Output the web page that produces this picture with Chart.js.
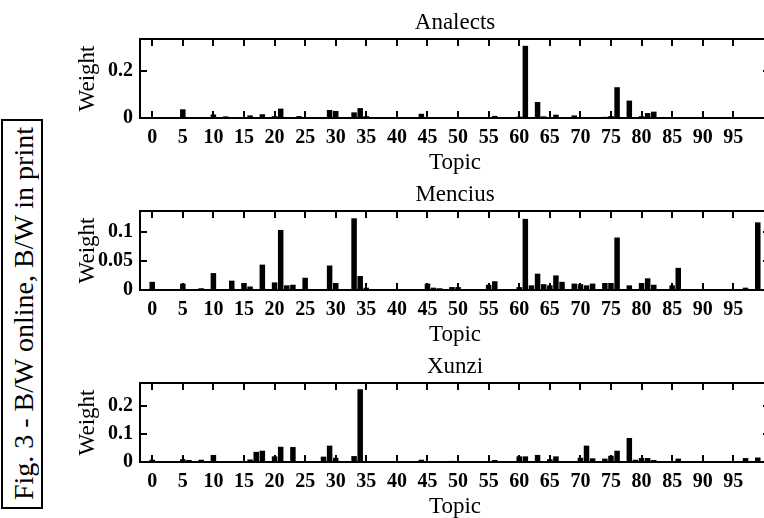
<!DOCTYPE html>
<html>
<head>
<meta charset="utf-8">
<script src="https://cdn.jsdelivr.net/npm/chart.js@4.4.1/dist/chart.umd.min.js"></script>
<style>
  html, body { margin: 0; padding: 0; background: #fff; width: 764px; height: 518px; overflow: hidden; position: relative; }
  canvas.panel { position: absolute; left: 0; }
  #fig {
    position: absolute; left: 1px; top: 119px; width: 38px; height: 386px;
    border: 2px solid #000; display: flex; align-items: center; justify-content: center;
  }
  #fig span {
    writing-mode: vertical-rl; transform: rotate(180deg);
    font-family: 'Liberation Serif', serif; font-size: 28px; color: #000; white-space: nowrap;
    padding-right: 3px;
  }
</style>
</head>
<body>
<div id="fig"><span>Fig. 3 - B/W online, B/W in print</span></div>
<canvas class="panel" id="c0" width="780" height="180" style="top:0px"></canvas>
<canvas class="panel" id="c1" width="780" height="180" style="top:172px"></canvas>
<canvas class="panel" id="c2" width="780" height="180" style="top:344px"></canvas>
<script>
// topic weights, index = topic number 0..99
const analects = [
  0.004, 0, 0, 0, 0, 0.037, 0, 0, 0, 0,
  0.015, 0.003, 0.007, 0, 0, 0, 0.011, 0, 0.016, 0,
  0.008, 0.040, 0, 0, 0.008, 0, 0, 0, 0, 0.034,
  0.030, 0, 0, 0.024, 0.042, 0.008, 0, 0, 0, 0,
  0, 0, 0, 0, 0.018, 0.004, 0, 0, 0, 0.003,
  0.002, 0, 0.003, 0, 0, 0, 0.009, 0, 0, 0,
  0.006, 0.307, 0.004, 0.068, 0.007, 0.004, 0.014, 0, 0, 0.011,
  0, 0, 0, 0, 0.005, 0.008, 0.131, 0, 0.074, 0,
  0.008, 0.021, 0.027, 0, 0, 0, 0, 0, 0, 0,
  0, 0, 0, 0, 0, 0, 0, 0, 0, 0
];
const mencius = [
  0.014, 0, 0, 0, 0, 0.011, 0, 0, 0.003, 0,
  0.029, 0, 0, 0.016, 0, 0.012, 0.006, 0, 0.0435, 0,
  0.013, 0.103, 0.008, 0.009, 0, 0.021, 0, 0, 0, 0.042,
  0.012, 0, 0, 0.123, 0.024, 0.004, 0, 0, 0, 0,
  0, 0, 0, 0, 0, 0.011, 0.004, 0.003, 0, 0.005,
  0.005, 0, 0, 0, 0, 0.009, 0.015, 0, 0, 0,
  0.005, 0.122, 0.008, 0.028, 0.010, 0.008, 0.025, 0.014, 0, 0.011,
  0.010, 0.008, 0.011, 0, 0.012, 0.012, 0.090, 0, 0.008, 0,
  0.012, 0.020, 0.009, 0, 0, 0.008, 0.038, 0, 0, 0,
  0, 0, 0, 0, 0, 0, 0, 0.004, 0, 0.116
];
const xunzi = [
  0.008, 0, 0, 0, 0, 0.010, 0.007, 0, 0.008, 0,
  0.025, 0, 0, 0, 0, 0, 0.009, 0.036, 0.040, 0,
  0.020, 0.054, 0, 0.053, 0, 0, 0, 0, 0.019, 0.058,
  0.015, 0, 0, 0.021, 0.258, 0, 0, 0, 0, 0,
  0, 0, 0.003, 0, 0.008, 0, 0, 0, 0, 0.004,
  0, 0, 0, 0, 0, 0, 0.007, 0, 0, 0,
  0.020, 0.020, 0, 0.025, 0, 0.010, 0.020, 0, 0, 0,
  0.015, 0.058, 0.013, 0, 0.012, 0.022, 0.040, 0, 0.085, 0.008,
  0.014, 0.014, 0.007, 0, 0, 0, 0.012, 0, 0, 0,
  0, 0, 0, 0, 0, 0, 0, 0.014, 0, 0.016
];
const xTicks = [0, 5, 10, 15, 20, 25, 30, 35, 40, 45, 50, 55, 60, 65, 70, 75, 80, 85, 90, 95];
const yTicksAnalects = [0, 0.2];
const yTicksMencius = [0, 0.05, 0.1];
const yTicksXunzi = [0, 0.1, 0.2];

const serif = 'Liberation Serif';

// box round the plot with inward ticks on all four sides
const framePlugin = {
  id: 'frame',
  afterDatasetsDraw(chart) {
    const { ctx, chartArea: a, scales: { x, y } } = chart;
    const len = 7;
    ctx.save();
    ctx.strokeStyle = '#000';
    ctx.lineWidth = 2;
    ctx.strokeRect(a.left, a.top, a.right - a.left, a.bottom - a.top);
    ctx.beginPath();
    x.ticks.forEach(t => {
      const px = Math.round(x.getPixelForValue(t.value));
      ctx.moveTo(px, a.bottom); ctx.lineTo(px, a.bottom - len);
      ctx.moveTo(px, a.top); ctx.lineTo(px, a.top + len);
    });
    y.ticks.forEach(t => {
      const py = Math.round(y.getPixelForValue(t.value));
      ctx.moveTo(a.left, py); ctx.lineTo(a.left + len, py);
      ctx.moveTo(a.right, py); ctx.lineTo(a.right - len, py);
    });
    ctx.stroke();
    ctx.restore();
  }
};

function makePanel(id, title, values, yMax, yTicks) {
  const points = values.map((v, i) => ({ x: i, y: v }));
  return new Chart(document.getElementById(id), {
    type: 'bar',
    data: {
      datasets: [{
        data: points,
        backgroundColor: '#000',
        borderWidth: 0,
        barPercentage: 0.9,
        categoryPercentage: 1
      }]
    },
    options: {
      responsive: false,
      animation: false,
      devicePixelRatio: 1,
      layout: { padding: { left: 0, right: 10, top: 0, bottom: 0 } },
      plugins: {
        legend: { display: false },
        tooltip: { enabled: false },
        title: {
          display: true,
          text: title,
          fullSize: false,
          color: '#000',
          font: { family: serif, size: 23, weight: 'normal' },
          padding: { top: 9, bottom: 2.4 }
        }
      },
      scales: {
        x: {
          type: 'linear',
          min: -2,
          max: 101,
          offset: false,
          grid: { display: false, drawTicks: false },
          border: { display: false },
          afterBuildTicks: s => { s.ticks = xTicks.map(v => ({ value: v })); },
          afterFit: s => { s.height = 62; },
          ticks: {
            color: '#000',
            padding: 8,
            maxRotation: 0,
            autoSkip: false,
            font: { family: serif, size: 20, weight: 'bold' }
          },
          title: {
            display: true,
            text: 'Topic',
            color: '#000',
            font: { family: serif, size: 23, weight: 'normal' },
            padding: { top: 0, bottom: 3 }
          }
        },
        y: {
          min: 0,
          max: yMax,
          grid: { display: false, drawTicks: false },
          border: { display: false },
          afterBuildTicks: s => { s.ticks = yTicks.map(v => ({ value: v })); },
          afterFit: s => { s.width = 140; },
          ticks: {
            color: '#000',
            padding: 7,
            callback: v => String(v),
            font: { family: serif, size: 20, weight: 'bold' }
          },
          title: {
            display: true,
            text: 'Weight',
            color: '#000',
            font: { family: serif, size: 23, weight: 'normal' },
            padding: { top: 74, bottom: 0 }
          }
        }
      }
    },
    plugins: [framePlugin]
  });
}

makePanel('c0', 'Analects', analects, 0.336, yTicksAnalects);
makePanel('c1', 'Mencius', mencius, 0.1355, yTicksMencius);
makePanel('c2', 'Xunzi', xunzi, 0.28, yTicksXunzi);
</script>
</body>
</html>
